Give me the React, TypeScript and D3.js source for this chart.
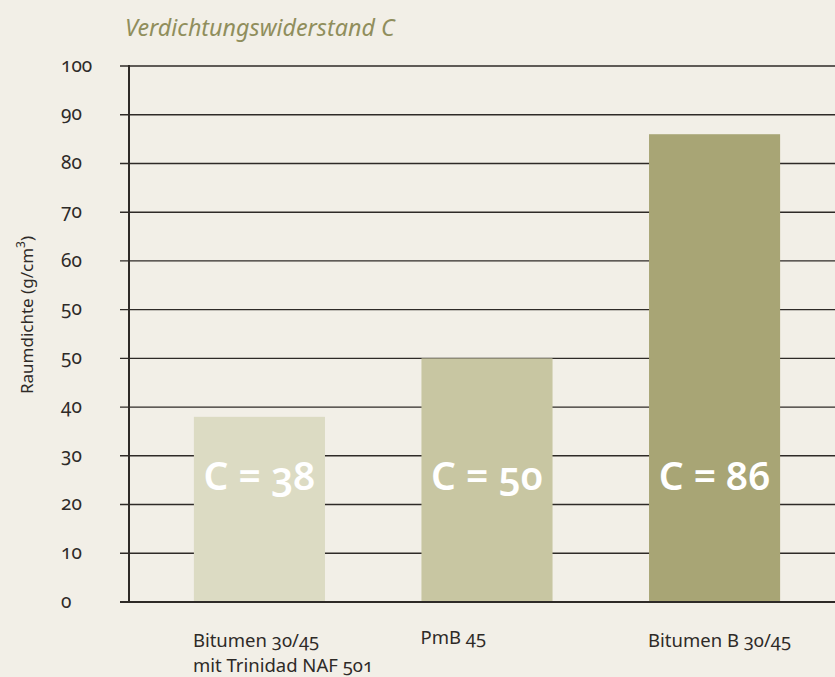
import React from "react";
import * as d3 from "d3";

// chart data
const categories = ["Bitumen 30/45|mit Trinidad NAF 501", "PmB 45", "Bitumen B 30/45"];
const values = [38, 50, 86];
const barColors = ["#dcdbc3", "#c8c6a2", "#a8a575"];
// the original axis really does show "50" twice
const tickLabels = ["0", "10", "20", "30", "40", "50", "50", "60", "70", "80", "90", "100"];

const title = "Verdichtungswiderstand C";
const yTitle = "Raumdichte (g/cm";

const width = 835;
const height = 677;
const font = "'Noto Sans', sans-serif";

const tickValues = tickLabels.map(Number);

// position of a value among the (uneven) tick labels
function valueToSlot(v: number): number {
  const i = d3.bisectLeft(tickValues, v);
  if (i <= 0) return 0;
  if (i >= tickValues.length) return tickValues.length - 1;
  if (tickValues[i] === v) return i;
  const lo = tickValues[i - 1];
  const hi = tickValues[i];
  return i - 1 + (v - lo) / (hi - lo);
}

export default function App() {
  const margin = { top: 66, bottom: 76, axisX: 129 };

  const y = d3
    .scaleLinear()
    .domain([0, tickLabels.length - 1])
    .range([height - margin.bottom + 1, margin.top]);

  const x = d3
    .scaleBand<string>()
    .domain(categories)
    .range([137, 837])
    .paddingInner(0.424)
    .paddingOuter(0.25);

  const y0 = y(0);

  return (
    <svg
      width={width}
      height={height}
      style={{ position: "absolute", left: 0, top: 0, display: "block" }}
      fontFamily={font}
    >
      <rect width={width} height={height} fill="#f2efe7" />

      <text x={125} y={36} fontSize={23.3} fontStyle="italic" fill="#908e5c">
        {title}
      </text>

      {/* gridlines + tick labels */}
      {tickLabels.map((t, i) => (
        <g key={i}>
          <line
            x1={120}
            x2={width}
            y1={y(i)}
            y2={y(i)}
            stroke="#2e2a27"
            strokeWidth={i === 0 ? 2 : 1.4}
          />
          <text
            x={61}
            y={y(i)}
            dy="0.3em"
            fontSize={19}
            fill="#2e2a27"
            style={{ fontVariantNumeric: "oldstyle-nums" }}
          >
            {t}
          </text>
        </g>
      ))}

      {/* bars */}
      {values.map((v, i) => {
        const top = y(valueToSlot(v));
        const bx = x(categories[i]) as number;
        return (
          <g key={categories[i]}>
            <rect x={bx} y={top} width={x.bandwidth()} height={y0 - top} fill={barColors[i]} />
            <text
              x={bx + x.bandwidth() / 2}
              y={490}
              textAnchor="middle"
              fontSize={39}
              fontWeight={600}
              fill="#ffffff"
              style={{ fontVariantNumeric: "oldstyle-nums" }}
            >
              {"C = " + v}
            </text>
          </g>
        );
      })}

      {/* x axis redrawn over the bars */}
      <line x1={120} x2={width} y1={y0} y2={y0} stroke="#2e2a27" strokeWidth={2} />
      <line x1={margin.axisX} x2={margin.axisX} y1={y(tickLabels.length - 1) - 1} y2={y0 + 1} stroke="#2e2a27" strokeWidth={2} />

      {/* category labels */}
      {categories.map((c, i) => (
        <text
          key={c}
          x={(x(c) as number) - 1}
          y={i === 1 ? 644 : 647}
          fontSize={18.5}
          fill="#2e2a27"
          style={{ fontVariantNumeric: "oldstyle-nums" }}
        >
          {c.split("|").map((line, j) => (
            <tspan key={j} x={(x(c) as number) - 1} dy={j === 0 ? 0 : 25}>
              {line}
            </tspan>
          ))}
        </text>
      ))}

      {/* y axis title */}
      <text
        transform={`translate(33, 315) rotate(-90)`}
        textAnchor="middle"
        fontSize={17}
        fill="#2e2a27"
      >
        {yTitle}
        <tspan fontSize={12} dy={-8}>3</tspan>
        <tspan dy={8}>)</tspan>
      </text>
    </svg>
  );
}
